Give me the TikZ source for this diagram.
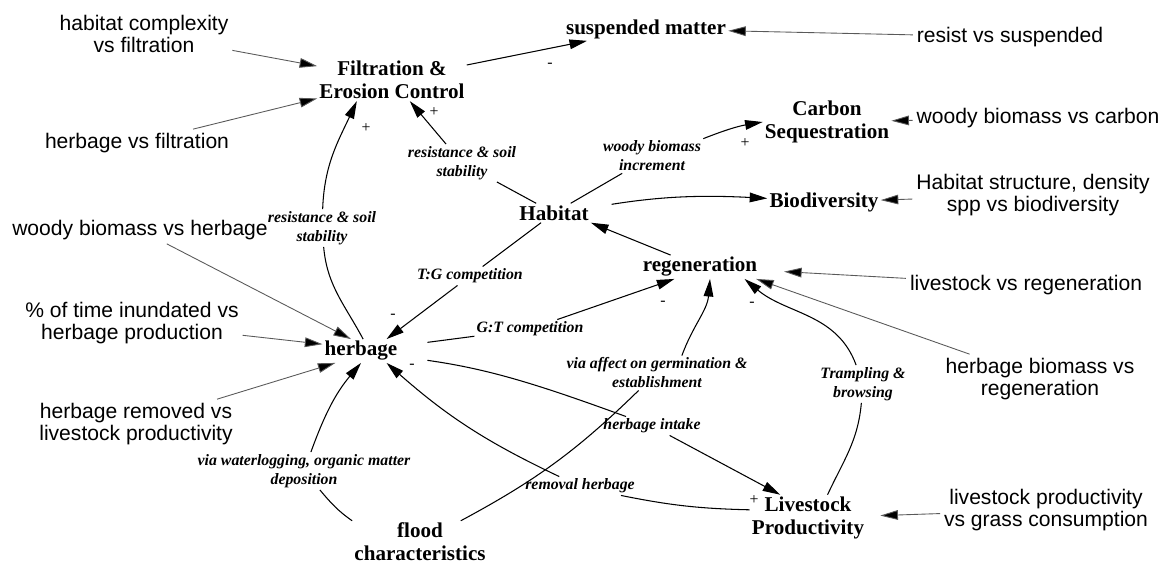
\documentclass[tikz,border=0pt]{standalone}
\usepackage{fontspec}
\setmainfont{Liberation Serif}
\newfontfamily\sanslabel{Liberation Sans}
\usetikzlibrary{arrows.meta,positioning}

\begin{document}
\begin{tikzpicture}[x=0.02cm,y=0.02cm,>={Triangle[length=10pt,width=5.5pt]},line width=0.6pt,
  stock/.style={font=\bfseries\fontsize{12}{13}\selectfont,align=center,inner sep=1pt},
  ext/.style={font=\sanslabel\fontsize{12}{12.5}\selectfont,align=center,inner sep=2pt},
  lbl/.style={font=\bfseries\itshape\fontsize{9}{10.8}\selectfont,align=center,inner sep=1pt},
  sgn/.style={font=\fontsize{9}{9}\selectfont,inner sep=0pt},
  feed/.style={->,draw=black!65,line width=0.5pt}]
        \useasboundingbox (0,0) rectangle (1168,565);

        \node[stock] (filt)      at (392,485) {Filtration \&\\Erosion Control};
        \node[stock] (susp)      at (646,536) {suspended matter};
        \node[stock] (carbon)    at (827,443) {Carbon\\Sequestration};
        \node[stock] (habitat)   at (554,352) {Habitat};
        \node[stock] (biodiv)    at (824,363) {Biodiversity};
        \node[stock] (regen)     at (700,298) {regeneration};
        \node[stock] (herbage)   at (361,214) {herbage};
        \node[stock] (flood)     at (420,23)  {flood\\characteristics};
        \node[stock] (livestock) at (808,47)  {Livestock\\Productivity};

        \node[ext] (in_habcomp) at (144,531)  {habitat complexity\\vs filtration};
        \node[ext] (in_herbfilt) at (137,422) {herbage vs filtration};
        \node[ext] (in_resist)  at (1010,528) {resist vs suspended};
        \node[ext] (in_carbon)  at (1038,447) {woody biomass vs carbon};
        \node[ext] (in_biodiv)  at (1033,370) {Habitat structure, density\\spp vs biodiversity};
        \node[ext] (in_woody)   at (140,335)  {woody biomass vs herbage};
        \node[ext] (in_lsregen) at (1026,280) {livestock vs regeneration};
        \node[ext] (in_inund)   at (132,242)  {\% of time inundated vs\\herbage production};
        \node[ext] (in_herbbio) at (1040,186) {herbage biomass vs\\regeneration};
        \node[ext] (in_removed) at (136,141)  {herbage removed vs\\livestock productivity};
        \node[ext] (in_lsprod)  at (1046,55)  {livestock productivity\\vs grass consumption};

        \node[lbl] (l_res1)    at (462,402) {resistance \& soil\\stability};
        \node[lbl] (l_res2)    at (322,337) {resistance \& soil\\stability};
        \node[lbl] (l_woody)   at (652,409) {woody biomass\\increment};
        \node[lbl] (l_tg)      at (470,289) {T:G competition};
        \node[lbl] (l_gt)      at (530,236) {G:T competition};
        \node[lbl] (l_germ)    at (657,192) {via affect on germination \&\\establishment};
        \node[lbl] (l_tramp)   at (863,181) {Trampling \&\\browsing};
        \node[lbl] (l_intake)  at (652,139) {herbage intake};
        \node[lbl] (l_removal) at (580,79)  {removal herbage};
        \node[lbl] (l_water)   at (304,94)  {via waterlogging, organic matter\\deposition};

        \node[sgn] (s_susp)   at (550,500) {-};
        \node[sgn] (s_filt1)  at (434,453) {+};
        \node[sgn] (s_filt2)  at (366,437) {+};
        \node[sgn] (s_carbon) at (745,422) {+};
        \node[sgn] (s_herb1)  at (393,249) {-};
        \node[sgn] (s_herb2)  at (412,199) {-};
        \node[sgn] (s_regen1) at (663,262) {-};
        \node[sgn] (s_regen2) at (752,261) {-};
        \node[sgn] (s_live)   at (754,65)  {+};

        \path[->]
             (filt) edge (susp)
             (habitat) edge[-] (l_res1)
             (l_res1) edge (filt)
             (herbage.80) edge[-,out=118,in=-85] (l_res2)
             (l_res2) edge[out=88,in=-115] (filt.211)
             (habitat) edge[-] (l_woody)
             (l_woody.north east) edge[bend left=6] (carbon.west)
             (habitat) edge[bend left=6,shorten <=12pt] (biodiv)
             (regen) edge (habitat.south east)
             (habitat) edge[-] (l_tg)
             (l_tg) edge (herbage.25)
             (herbage) edge[-,shorten <=16pt] (l_gt)
             (l_gt) edge (regen.205)
             (flood) edge[-,bend right=8] (l_germ)
             (l_germ.35) edge[out=70,in=-95] (regen.-50)
             (livestock.50) edge[-,out=65,in=-95] (l_tramp)
             (l_tramp) edge[out=110,in=-40] (regen.-15)
             (herbage) edge[-,shorten <=16pt,out=-8,in=160] (l_intake)
             (l_intake) edge (livestock.140)
             (livestock.172) edge[-,bend left=5] (l_removal)
             (l_removal) edge[bend left=8] (herbage.-25)
             (flood.north west) edge[-,out=145,in=-50] (l_water)
             (l_water) edge[out=70,in=-130] (herbage.south)
        ;

        \path[feed]
             (in_habcomp) edge (filt)
             (in_herbfilt) edge (filt)
             (in_resist) edge (susp)
             (in_carbon) edge (carbon)
             (in_biodiv) edge (biodiv)
             (in_lsregen) edge[shorten >=14pt] (regen)
             (in_herbbio) edge (regen.-12)
             (in_woody) edge (herbage.130)
             (in_inund) edge (herbage.170)
             (in_removed) edge (herbage.-155)
             (in_lsprod) edge[shorten >=8pt] (livestock)
        ;
    \end{tikzpicture}
\end{document}
